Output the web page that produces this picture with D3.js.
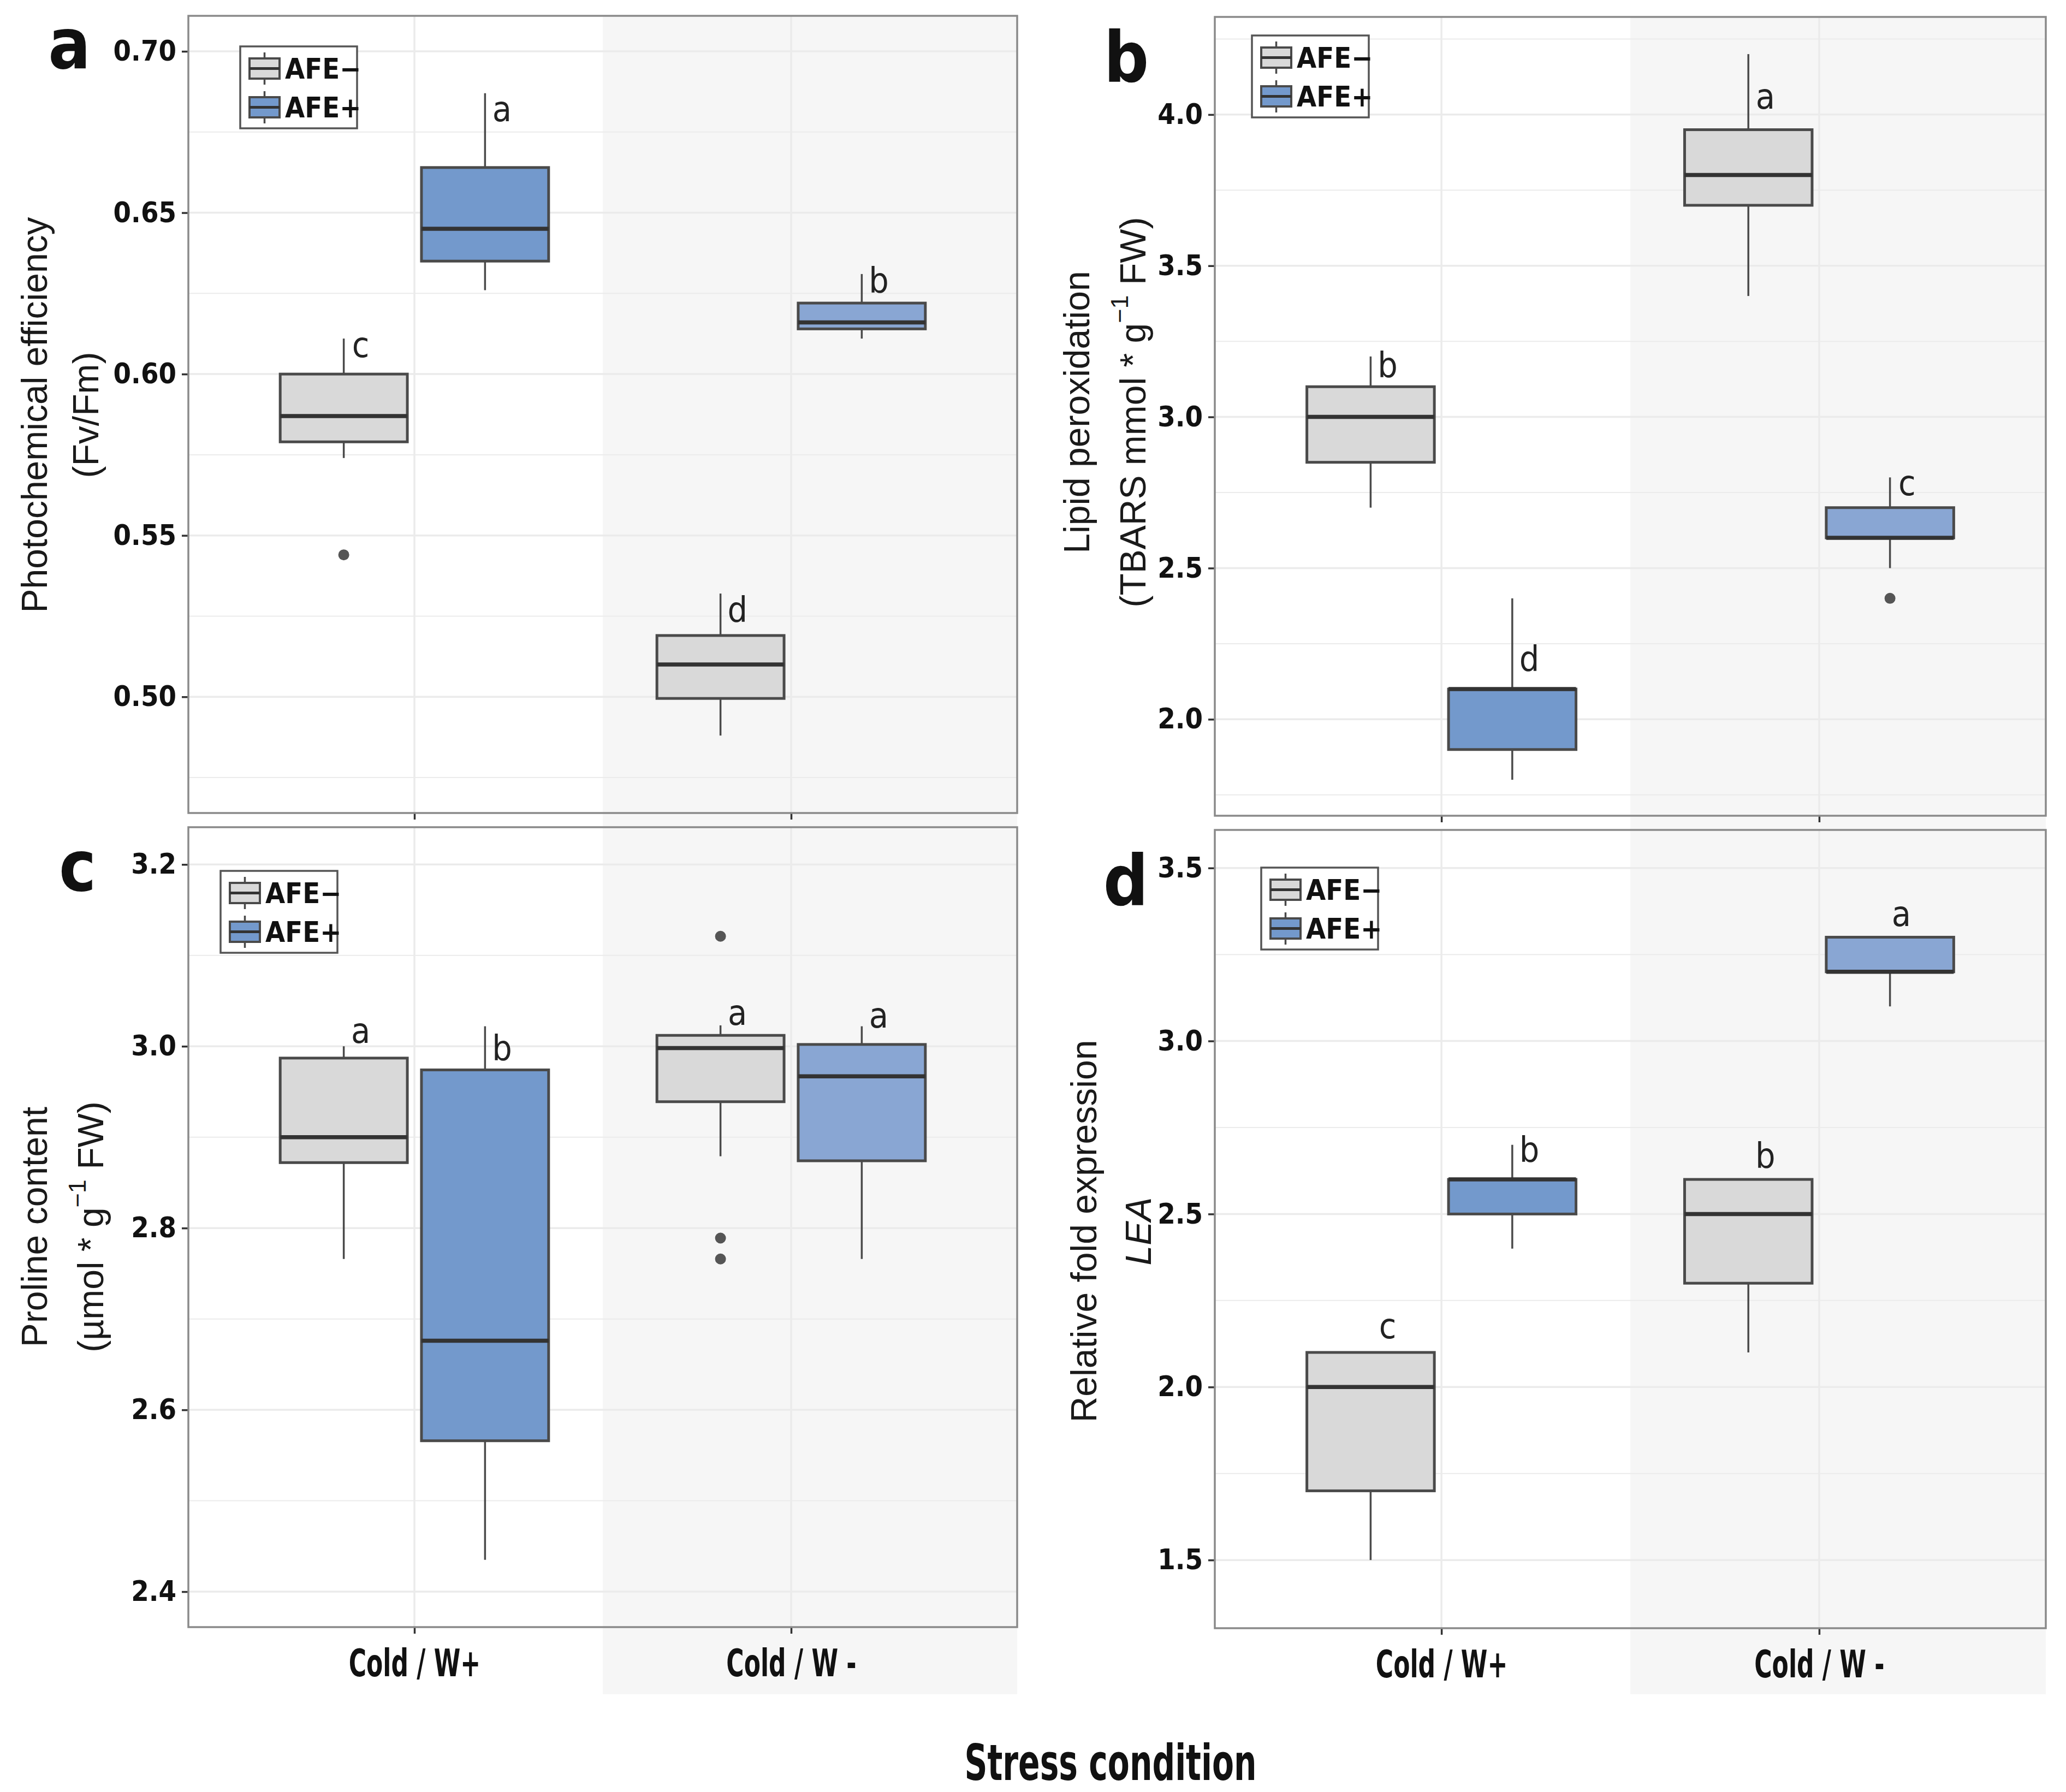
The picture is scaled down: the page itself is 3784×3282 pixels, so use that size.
<!DOCTYPE html>
<html>
<head>
<meta charset="utf-8">
<script src="https://cdn.jsdelivr.net/npm/d3@7/dist/d3.min.js"></script>
<style>
  html, body { margin: 0; padding: 0; background: #ffffff; }
  svg { display: block; }
</style>
</head>
<body>
<svg id="chart" width="3784" height="3282"></svg>
<script>
// ---------------- DATA ----------------
const conditions = ["Cold / W+", "Cold / W -"];
const groups = ["AFE\u2212", "AFE+"];
// order of boxes in every panel: [W+ AFE−, W+ AFE+, W− AFE−, W− AFE+]

// a — photochemical efficiency (Fv/Fm)
const photoLow  = [0.574, 0.626, 0.488, 0.611];
const photoQ1   = [0.579, 0.635, 0.4995, 0.614];
const photoMed  = [0.587, 0.645, 0.510, 0.616];
const photoQ3   = [0.600, 0.664, 0.519, 0.622];
const photoHigh = [0.611, 0.687, 0.532, 0.631];
const photoOut  = [[0.544], [], [], []];
const photoLetters = ["c", "a", "d", "b"];
const photoLetterY = [0.609, 0.682, 0.527, 0.629];
const photoTicks = [0.50, 0.55, 0.60, 0.65, 0.70];

// b — lipid peroxidation
const lipidLow  = [2.70, 1.80, 3.40, 2.50];
const lipidQ1   = [2.85, 1.90, 3.70, 2.60];
const lipidMed  = [3.00, 2.10, 3.80, 2.60];
const lipidQ3   = [3.10, 2.10, 3.95, 2.70];
const lipidHigh = [3.20, 2.40, 4.20, 2.80];
const lipidOut  = [[], [], [], [2.40]];
const lipidLetters = ["b", "d", "a", "c"];
const lipidLetterY = [3.17, 2.20, 4.06, 2.78];
const lipidTicks = [2.0, 2.5, 3.0, 3.5, 4.0];

// c — proline content
const prolLow  = [2.766, 2.435, 2.879, 2.766];
const prolQ1   = [2.872, 2.566, 2.939, 2.874];
const prolMed  = [2.900, 2.676, 2.998, 2.967];
const prolQ3   = [2.987, 2.974, 3.012, 3.002];
const prolHigh = [3.000, 3.022, 3.023, 3.022];
const prolOut  = [[], [], [3.121, 2.789, 2.766], []];
const prolLetters = ["a", "b", "a", "a"];
const prolLetterY = [3.017, 2.998, 3.037, 3.034];
const prolTicks = [2.4, 2.6, 2.8, 3.0, 3.2];

// d — LEA relative fold expression
const leaLow  = [1.50, 2.40, 2.10, 3.10];
const leaQ1   = [1.70, 2.50, 2.30, 3.20];
const leaMed  = [2.00, 2.60, 2.50, 3.20];
const leaQ3   = [2.10, 2.60, 2.60, 3.30];
const leaHigh = [2.10, 2.70, 2.60, 3.30];
const leaOut  = [[], [], [], []];
const leaLetters = ["c", "b", "b", "a"];
const leaLetterY = [2.175, 2.685, 2.668, 3.367];
const leaTicks = [1.5, 2.0, 2.5, 3.0, 3.5];

const xAxisTitle = "Stress condition";

// ---------------- STYLE ----------------
const condFont = "'Liberation Sans Narrow','DejaVu Sans Condensed','Arial Narrow',sans-serif";
const sansFont = "'Liberation Sans',Arial,Helvetica,sans-serif";
const fillAFEminus = "#d9d9d9";
const fillAFEplus = ["#7399cc", "#89a6d3"];
const shadeCol = "#f6f6f6";
const gridCol = "#ebebeb";

const svg = d3.select("#chart");
svg.append("rect").attr("width", 3784).attr("height", 3282).attr("fill", "#ffffff");

const panels = [
  { id: "a", x0: 345, x1: 1863, y0: 29, y1: 1489, shadeBottom: 1515, domain: [0.464, 0.711],
    ticks: photoTicks, fmt: d3.format(".2f"), low: photoLow, q1: photoQ1, med: photoMed, q3: photoQ3, high: photoHigh,
    out: photoOut, letters: photoLetters, letterY: photoLetterY, showX: false,
    legend: [440, 85], tag: [127, 125],
    title: [[{t: "Photochemical efficiency"}], [{t: "(Fv/Fm)"}]], titleX: [63, 157], titleY: 760 },
  { id: "b", x0: 2225, x1: 3747, y0: 31, y1: 1494, shadeBottom: 1520, domain: [1.681, 4.323],
    ticks: lipidTicks, fmt: d3.format(".1f"), low: lipidLow, q1: lipidQ1, med: lipidMed, q3: lipidQ3, high: lipidHigh,
    out: lipidOut, letters: lipidLetters, letterY: lipidLetterY, showX: false,
    legend: [2293, 65], tag: [2063, 150],
    title: [[{t: "Lipid peroxidation"}], [{t: "(TBARS mmol * g"}, {t: "\u22121", sup: true}, {t: " FW)"}]],
    titleX: [1972, 2075], titleY: 755 },
  { id: "c", x0: 345, x1: 1863, y0: 1515, y1: 2980, shadeBottom: 3103, domain: [2.361, 3.241],
    ticks: prolTicks, fmt: d3.format(".1f"), low: prolLow, q1: prolQ1, med: prolMed, q3: prolQ3, high: prolHigh,
    out: prolOut, letters: prolLetters, letterY: prolLetterY, showX: true,
    legend: [404, 1595], tag: [142, 1631],
    title: [[{t: "Proline content"}], [{t: "(\u00b5mol * g"}, {t: "\u22121", sup: true}, {t: " FW)"}]],
    titleX: [63, 166], titleY: 2247 },
  { id: "d", x0: 2225, x1: 3747, y0: 1520, y1: 2982, shadeBottom: 3103, domain: [1.303, 3.61],
    ticks: leaTicks, fmt: d3.format(".1f"), low: leaLow, q1: leaQ1, med: leaMed, q3: leaQ3, high: leaHigh,
    out: leaOut, letters: leaLetters, letterY: leaLetterY, showX: true,
    legend: [2310, 1589], tag: [2062, 1658],
    title: [[{t: "Relative fold expression"}], [{t: "LEA", italic: true}]],
    titleX: [1985, 2085], titleY: 2255 }
];

function drawPanel(p) {
  const g = svg.append("g").attr("class", "panel-" + p.id);
  const x = d3.scalePoint().domain(conditions).range([p.x0, p.x1]).padding(0.6);
  const step = x.step();
  const y = d3.scaleLinear().domain(p.domain).range([p.y1, p.y0]);
  const mid = (x(conditions[0]) + x(conditions[1])) / 2;

  // plot background + shaded second condition
  g.append("rect").attr("x", p.x0).attr("y", p.y0).attr("width", p.x1 - p.x0).attr("height", p.y1 - p.y0).attr("fill", "#ffffff");
  g.append("rect").attr("x", mid).attr("y", p.y0).attr("width", p.x1 - mid).attr("height", p.shadeBottom - p.y0).attr("fill", shadeCol);

  // grid
  const minor = [];
  for (let i = 0; i < p.ticks.length - 1; i++) minor.push((p.ticks[i] + p.ticks[i + 1]) / 2);
  const dt = p.ticks[1] - p.ticks[0];
  minor.push(p.ticks[0] - dt / 2, p.ticks[p.ticks.length - 1] + dt / 2);
  const minorIn = minor.filter(v => v > p.domain[0] && v < p.domain[1]);
  g.selectAll(".minor").data(minorIn).enter().append("line")
    .attr("x1", p.x0).attr("x2", p.x1).attr("y1", d => y(d)).attr("y2", d => y(d))
    .attr("stroke", gridCol).attr("stroke-width", 2);
  g.selectAll(".major").data(p.ticks).enter().append("line")
    .attr("x1", p.x0).attr("x2", p.x1).attr("y1", d => y(d)).attr("y2", d => y(d))
    .attr("stroke", gridCol).attr("stroke-width", 3.5);
  g.selectAll(".vmajor").data(conditions).enter().append("line")
    .attr("x1", d => x(d)).attr("x2", d => x(d)).attr("y1", p.y0).attr("y2", p.y1)
    .attr("stroke", gridCol).attr("stroke-width", 3.5);

  // boxes
  const boxes = d3.range(4).map(i => ({
    i, cond: conditions[Math.floor(i / 2)], grp: i % 2,
    low: p.low[i], q1: p.q1[i], med: p.med[i], q3: p.q3[i], high: p.high[i],
    out: p.out[i], letter: p.letters[i], ly: p.letterY[i]
  }));
  const cx = b => x(b.cond) + (b.grp === 0 ? -1 : 1) * 0.1875 * step;
  const bw = 0.3375 * step;
  const fill = b => b.grp === 0 ? fillAFEminus : fillAFEplus[Math.floor(b.i / 2)];

  const bg = g.selectAll(".box").data(boxes).enter().append("g");
  bg.append("line").attr("x1", cx).attr("x2", cx).attr("y1", b => y(b.high)).attr("y2", b => y(b.q3))
    .attr("stroke", "#4a4a4a").attr("stroke-width", 3.5);
  bg.append("line").attr("x1", cx).attr("x2", cx).attr("y1", b => y(b.q1)).attr("y2", b => y(b.low))
    .attr("stroke", "#4a4a4a").attr("stroke-width", 3.5);
  bg.append("rect").attr("x", b => cx(b) - bw / 2).attr("width", bw)
    .attr("y", b => y(b.q3)).attr("height", b => Math.max(1, y(b.q1) - y(b.q3)))
    .attr("fill", fill).attr("stroke", "#4a4a4a").attr("stroke-width", 5);
  bg.append("line").attr("x1", b => cx(b) - bw / 2).attr("x2", b => cx(b) + bw / 2)
    .attr("y1", b => y(b.med)).attr("y2", b => y(b.med))
    .attr("stroke", "#333333").attr("stroke-width", 7.5);
  bg.each(function(b) {
    d3.select(this).selectAll("circle").data(b.out).enter().append("circle")
      .attr("cx", cx(b)).attr("cy", d => y(d)).attr("r", 10).attr("fill", "#555555");
  });
  bg.append("text").attr("x", b => cx(b) + (b.i === 3 && p.id === "d" ? 0.03 : 0.045) * step).attr("y", b => y(b.ly))
    .attr("text-anchor", "middle").attr("dominant-baseline", "central")
    .attr("font-family", condFont).attr("font-size", 64).attr("fill", "#222222")
    .text(b => b.letter);

  // axes
  const ya = g.append("g").attr("transform", `translate(${p.x0},0)`)
    .call(d3.axisLeft(y).tickValues(p.ticks).tickFormat(p.fmt).tickSize(12).tickPadding(10));
  ya.select(".domain").remove();
  ya.selectAll(".tick line").attr("stroke", "#333333").attr("stroke-width", 3.5);
  ya.selectAll(".tick text").attr("font-family", condFont).attr("font-weight", "bold")
    .attr("font-size", 52).attr("fill", "#111111");

  const xa = g.append("g").attr("transform", `translate(0,${p.y1})`)
    .call(d3.axisBottom(x).tickSize(12).tickPadding(28));
  xa.select(".domain").remove();
  xa.selectAll(".tick line").attr("stroke", "#333333").attr("stroke-width", 3.5);
  if (p.showX) {
    xa.selectAll(".tick text").attr("font-family", condFont).attr("font-weight", "bold")
      .attr("font-size", 70).attr("fill", "#111111").attr("transform", "scale(0.7,1)");
  } else {
    xa.selectAll(".tick text").remove();
  }

  // border
  g.append("rect").attr("x", p.x0).attr("y", p.y0).attr("width", p.x1 - p.x0).attr("height", p.y1 - p.y0)
    .attr("fill", "none").attr("stroke", "#8a8a8a").attr("stroke-width", 3.5);

  // legend
  const [lx, ly] = p.legend;
  const lg = g.append("g").attr("transform", `translate(${lx},${ly})`);
  lg.append("rect").attr("width", 214).attr("height", 150).attr("fill", "#ffffff")
    .attr("stroke", "#555555").attr("stroke-width", 3.5);
  groups.forEach((name, k) => {
    const ky = 22 + k * 71;
    const kx = 17, kw = 55, kh = 37;
    lg.append("line").attr("x1", kx + kw / 2).attr("x2", kx + kw / 2).attr("y1", ky - 11).attr("y2", ky + kh + 11)
      .attr("stroke", "#4a4a4a").attr("stroke-width", 3.5);
    lg.append("rect").attr("x", kx).attr("y", ky).attr("width", kw).attr("height", kh)
      .attr("fill", k === 0 ? fillAFEminus : fillAFEplus[0]).attr("stroke", "#4a4a4a").attr("stroke-width", 4);
    lg.append("line").attr("x1", kx).attr("x2", kx + kw).attr("y1", ky + kh / 2).attr("y2", ky + kh / 2)
      .attr("stroke", "#333333").attr("stroke-width", 5);
    lg.append("text").attr("x", kx + kw + 10).attr("y", ky + kh / 2 + 18)
      .attr("font-family", condFont).attr("font-weight", "bold").attr("font-size", 52).attr("fill", "#111111")
      .text(name);
  });

  // panel tag
  g.append("text").attr("x", p.tag[0]).attr("y", p.tag[1]).attr("text-anchor", "middle")
    .attr("font-family", condFont).attr("font-weight", "bold").attr("font-size", 128).attr("fill", "#111111")
    .text(p.id);

  // y title (two lines)
  p.title.forEach((segs, li) => {
    const t = g.append("text")
      .attr("transform", `translate(${p.titleX[li]},${p.titleY}) rotate(-90)`)
      .attr("text-anchor", "middle").attr("dominant-baseline", "central")
      .attr("font-family", sansFont).attr("font-size", 66).attr("fill", "#1a1a1a");
    let shifted = false;
    segs.forEach(s => {
      const ts = t.append("tspan").text(s.t);
      if (s.italic) ts.attr("font-style", "italic");
      if (s.sup) { ts.attr("font-size", 45).attr("dy", -25); shifted = true; }
      else if (shifted) { ts.attr("dy", 25); shifted = false; }
    });
  });
}

panels.forEach(drawPanel);

// shared x title
svg.append("g").attr("transform", "translate(2034,3260) scale(0.72,1)")
  .append("text").attr("x", 0).attr("y", 0).attr("text-anchor", "middle")
  .attr("font-family", condFont).attr("font-weight", "bold").attr("font-size", 90).attr("fill", "#111111")
  .text(xAxisTitle);
</script>
</body>
</html>
